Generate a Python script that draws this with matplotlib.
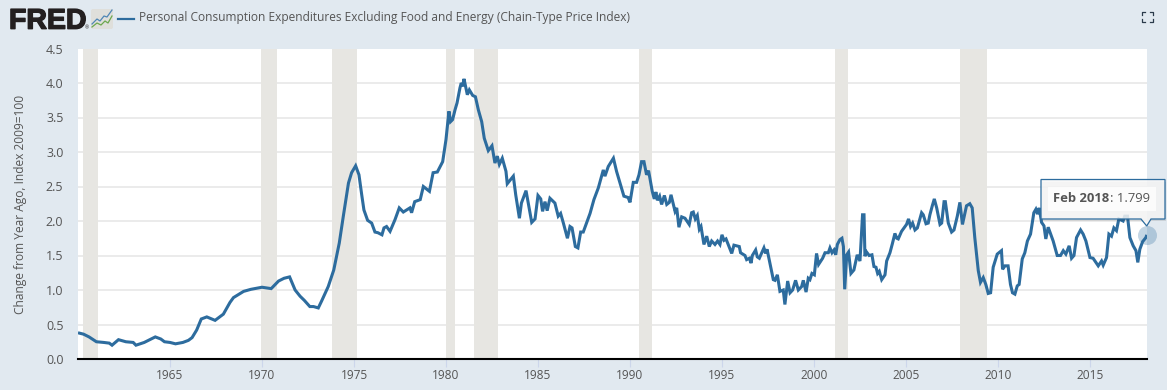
import matplotlib
matplotlib.use("Agg")
import matplotlib.pyplot as plt
import matplotlib.patheffects as pe
from matplotlib.patches import Rectangle, FancyBboxPatch, Polygon

TITLE = "Personal Consumption Expenditures Excluding Food and Energy (Chain-Type Price Index)"
YLABEL = "Change from Year Ago, Index 2009=100"

years = [
 1960.0,1960.3,1960.6,1961.0,1961.4,1961.7,1961.85,1962.2,1962.6,1963.0,1963.15,1963.6,1963.9,1964.2,1964.5,1964.7,1965.0,1965.3,
 1965.7,1966.0,1966.2,1966.45,1966.7,1967.0,1967.45,1967.9,1968.26,1968.45,1969.0,1969.4,1970.0,1970.5,1970.9,1971.2,1971.5,1971.8,
 1972.07,1972.3,1972.6,1972.8,1973.06,1973.24,1973.6,1973.9,1974.2,1974.42,1974.7,1974.87,1975.09,1975.27,1975.42,1975.54,1975.74,
 1975.96,1976.14,1976.3,1976.52,1976.63,1976.77,1976.96,1977.23,1977.46,1977.68,1978.04,1978.13,1978.3,1978.6,1978.77,1979.1,1979.3,
 1979.53,1979.82,1980.0,1980.16,1980.25,1980.36,1980.49,1980.6,1980.76,1980.83,1980.9,1980.98,1981.16,1981.27,1981.45,1981.6,1981.76,
 1981.94,1982.08,1982.3,1982.5,1982.66,1982.79,1982.9,1983.06,1983.26,1983.33,1983.66,1983.79,1983.99,1984.1,1984.35,1984.66,1984.84,
 1985.0,1985.15,1985.25,1985.38,1985.5,1985.65,1985.92,1986.1,1986.23,1986.38,1986.6,1986.74,1986.85,1987.03,1987.17,1987.32,1987.46,
 1987.83,1988.04,1988.28,1988.55,1988.64,1988.82,1989.1,1989.27,1989.67,1989.9,1990.0,1990.18,1990.36,1990.49,1990.63,1990.76,1990.9,
 1991.01,1991.21,1991.32,1991.41,1991.49,1991.61,1991.72,1991.87,1992.0,1992.14,1992.23,1992.45,1992.54,1992.66,1992.81,1992.99,1993.22,
 1993.35,1993.44,1993.55,1993.66,1993.77,1993.86,1994.02,1994.17,1994.31,1994.44,1994.62,1994.76,1994.89,1995.0,1995.11,1995.22,1995.53,
 1995.65,1995.8,1995.94,1996.01,1996.25,1996.34,1996.49,1996.58,1996.65,1996.83,1996.92,1997.03,1997.28,1997.37,1997.45,1997.79,1997.88,
 1998.01,1998.15,1998.33,1998.42,1998.57,1998.7,1998.84,1999.0,1999.15,1999.33,1999.42,1999.57,1999.69,1999.78,1999.89,2000.02,2000.14,
 2000.25,2000.47,2000.6,2000.78,2000.87,2000.98,2001.09,2001.18,2001.27,2001.41,2001.52,2001.6,2001.67,2001.78,2001.88,2002.01,2002.17,
 2002.35,2002.5,2002.64,2002.72,2002.77,2002.86,2003.0,2003.15,2003.26,2003.37,2003.46,2003.55,2003.68,2003.86,2003.95,2004.13,2004.26,
 2004.4,2004.5,2004.58,2004.76,2005.03,2005.14,2005.25,2005.36,2005.49,2005.62,2005.85,2005.94,2006.09,2006.21,2006.3,2006.43,2006.54,
 2006.67,2006.85,2006.94,2007.07,2007.14,2007.3,2007.48,2007.61,2007.79,2007.93,2008.07,2008.29,2008.47,2008.6,2008.74,2008.93,2009.05,
 2009.2,2009.34,2009.47,2009.6,2009.74,2009.96,2010.1,2010.19,2010.25,2010.38,2010.55,2010.68,2010.79,2010.92,2011.05,2011.15,2011.32,
 2011.46,2011.6,2011.77,2011.95,2012.06,2012.15,2012.24,2012.37,2012.5,2012.6,2012.73,2013.0,2013.22,2013.4,2013.55,2013.69,2013.87,
 2014.0,2014.13,2014.27,2014.49,2014.63,2014.78,2015.0,2015.17,2015.45,2015.63,2015.72,2015.9,2016.03,2016.17,2016.3,2016.44,2016.57,
 2016.8,2016.89,2017.04,2017.17,2017.35,2017.5,2017.6,2017.71,2017.86,2018.04,2018.09]
values = [
 .38,.36,.32,.25,.24,.23,.20,.28,.25,.24,.20,.24,.28,.32,.29,.25,.24,.22,
 .24,.27,.31,.42,.58,.61,.56,.65,.82,.89,.98,1.01,1.04,1.02,1.13,1.17,1.19,1.00,
 .91,.85,.76,.76,.74,.84,1.05,1.29,1.68,2.07,2.55,2.70,2.80,2.67,2.38,2.16,2.01,
 1.97,1.84,1.83,1.80,1.90,1.92,1.85,2.02,2.19,2.13,2.19,2.12,2.28,2.31,2.50,2.43,2.70,
 2.71,2.86,3.18,3.59,3.44,3.47,3.61,3.71,3.93,4.00,3.95,4.06,3.83,3.90,3.82,3.80,3.61,
 3.44,3.20,3.02,3.09,2.84,2.94,2.82,2.91,2.72,2.54,2.65,2.38,2.04,2.26,2.44,1.98,2.03,
 2.37,2.32,2.14,2.28,2.15,2.33,2.26,2.07,2.11,1.97,1.75,1.92,1.90,1.63,1.61,1.84,1.84,
 2.11,2.31,2.48,2.74,2.65,2.79,2.91,2.72,2.36,2.34,2.27,2.56,2.56,2.67,2.86,2.86,2.67,
 2.73,2.43,2.32,2.42,2.30,2.36,2.24,2.37,2.24,2.27,2.38,2.14,2.19,1.91,2.06,2.04,1.95,
 2.12,2.13,2.03,2.08,1.88,1.92,1.66,1.78,1.63,1.71,1.66,1.71,1.66,1.80,1.72,1.74,1.53,
 1.65,1.64,1.63,1.54,1.50,1.44,1.46,1.39,1.50,1.58,1.48,1.46,1.61,1.53,1.59,1.15,1.14,
 1.22,.98,1.00,.79,1.13,.96,1.00,1.14,1.00,1.05,1.14,.97,1.17,1.15,1.24,1.22,1.53,
 1.37,1.46,1.54,1.54,1.61,1.54,1.58,1.51,1.66,1.73,1.75,1.63,1.01,1.51,1.55,1.24,1.29,
 1.51,1.42,2.09,2.09,1.49,1.55,1.50,1.51,1.34,1.33,1.24,1.27,1.15,1.22,1.42,1.54,1.67,
 1.82,1.75,1.74,1.85,1.95,2.03,1.92,1.97,1.87,1.90,2.12,2.09,1.96,1.97,2.09,2.22,2.32,
 2.19,1.95,1.97,2.28,2.28,1.97,1.84,1.87,2.07,2.27,1.95,2.22,2.25,2.19,1.76,1.28,1.11,
 1.18,1.08,.95,.96,1.33,1.52,1.55,1.57,1.30,1.35,1.35,1.08,.96,.94,1.06,1.08,1.45,
 1.54,1.71,1.81,2.12,2.17,2.10,2.19,1.98,1.93,1.74,1.91,1.71,1.50,1.50,1.57,1.52,1.64,
 1.46,1.50,1.76,1.87,1.81,1.71,1.47,1.46,1.35,1.42,1.36,1.47,1.81,1.78,1.90,1.86,2.03,
 2.00,2.07,2.07,1.76,1.64,1.57,1.40,1.59,1.70,1.76,1.799]

recession_start = [1960.25, 1969.92, 1973.83, 1980.0, 1981.5, 1990.5, 2001.17, 2007.92]
recession_end   = [1961.08, 1970.83, 1975.17, 1980.5, 1982.83, 1991.17, 2001.83, 2009.42]
y_ticks = [0.0, 0.5, 1.0, 1.5, 2.0, 2.5, 3.0, 3.5, 4.0, 4.5]
grid_levels = [0.5, 1.0, 1.5, 2.0, 2.5, 3.0, 3.5, 4.0]
x_ticks = [1965, 1970, 1975, 1980, 1985, 1990, 1995, 2000, 2005, 2010, 2015]

BG = "#e1e9f0"; LINE = "#2d6c9e"; TXT = "#555555"
W, H = 1167, 390
L, R, T, B = 78, 1147, 48.5, 359

plt.rcParams["font.family"] = ["Open Sans", "DejaVu Sans"]
fig = plt.figure(figsize=(W/100, H/100), dpi=100, facecolor=BG)
ax = fig.add_axes([L/W, 1-B/H, (R-L)/W, (B-T)/H], facecolor="white")
ax.set_xlim(1960.0, 2018.1)
ax.set_ylim(0, 4.5)
ax.hlines(grid_levels, 1960.0, 2018.1, color="#e6e6e6", lw=1.1, zorder=1)
for s, e in zip(recession_start, recession_end):
    ax.axvspan(s, e, color="#e7e6e2", lw=0, zorder=2)
ax.plot(years, values, color=LINE, lw=2.2, zorder=3, solid_joinstyle="miter", solid_capstyle="butt")
ax.plot(years[-1], values[-1], "o", ms=13.7, color=LINE, alpha=0.28, mew=0, clip_on=False, zorder=4)
for s in ["top", "left", "right"]:
    ax.spines[s].set_visible(False)
ax.spines["bottom"].set_color("black")
ax.spines["bottom"].set_linewidth(1.5)
ax.spines["bottom"].set_zorder(5)
ax.set_yticks(y_ticks, [f"{v:.1f}" for v in y_ticks])
ax.set_xticks(x_ticks, [str(v) for v in x_ticks])
ax.tick_params(axis="y", length=0, pad=10.5, labelsize=9, labelcolor=TXT)
ax.tick_params(axis="x", length=6, width=0.8, color="#ccd6eb", pad=1.5, labelsize=8.6, labelcolor=TXT)
fig.text(21/W, 1-204/H, YLABEL, rotation=90, ha="center", va="center", fontsize=8.6, color=TXT)

# overlay in pixel coordinates: header, logo, tooltip
ov = fig.add_axes([0, 0, 1, 1], facecolor="none")
ov.set_xlim(0, W); ov.set_ylim(H, 0); ov.axis("off")
ov.text(9, 28.7, "FRED", family="Liberation Sans", weight="bold", fontsize=20.5, color="#231f20", va="baseline",
        path_effects=[pe.withStroke(linewidth=1.0, foreground="#231f20")])
ov.text(85, 29.5, "®", fontsize=3.5, color="#231f20", va="baseline")
ov.add_patch(FancyBboxPatch((91, 9), 22, 20, boxstyle="round,pad=0,rounding_size=2", fc="#dfdfdb", ec="none"))
ov.plot([92, 97, 100, 104, 107, 112], [24, 19, 21, 16, 17, 10], color="#4f86b5", lw=0.9)
ov.plot([92, 97, 101, 105, 108, 112], [27, 23, 25, 21, 23, 16], color="#6ca84f", lw=0.9)
ov.plot([118, 134], [18.5, 18.5], color=LINE, lw=1.6)
ov.text(139, 18, TITLE, fontsize=8.57, color=TXT, va="center", ha="left")
for x0, x1, y0, y1 in [(1142,1145,12,15),(1153,1150,12,15),(1142,1145,22,19),(1153,1150,22,19)]:
    ov.plot([x1, x0, x0], [y0, y0, y1], color="#2b3b4b", lw=0.9)

# tooltip
tt_x0, tt_x1, tt_y0, tt_y1 = 1041, 1165, 179.5, 219
ov.add_patch(Rectangle((tt_x0+1, tt_y0+2), tt_x1-tt_x0, tt_y1-tt_y0, fc="#000000", alpha=0.10, ec="none"))
ov.add_patch(Polygon([(tt_x0, tt_y0), (tt_x1, tt_y0), (tt_x1, tt_y1), (1151, tt_y1), (1146.7, 226),
                      (1141, tt_y1), (tt_x0, tt_y1)], closed=True, fc=(0.97, 0.97, 0.97, 0.85), ec=LINE, lw=0.9))
ov.add_patch(Rectangle((1048, 187), 108, 24, fc="white", alpha=0.75, ec="none"))
ov.text(1053, 198, "Feb 2018", weight="bold", fontsize=9.4, color=TXT, va="center", ha="left")
ov.text(1110.5, 198, ": 1.799", fontsize=9.4, color=TXT, va="center", ha="left")

fig.savefig("out.png", dpi=100, facecolor=BG)
